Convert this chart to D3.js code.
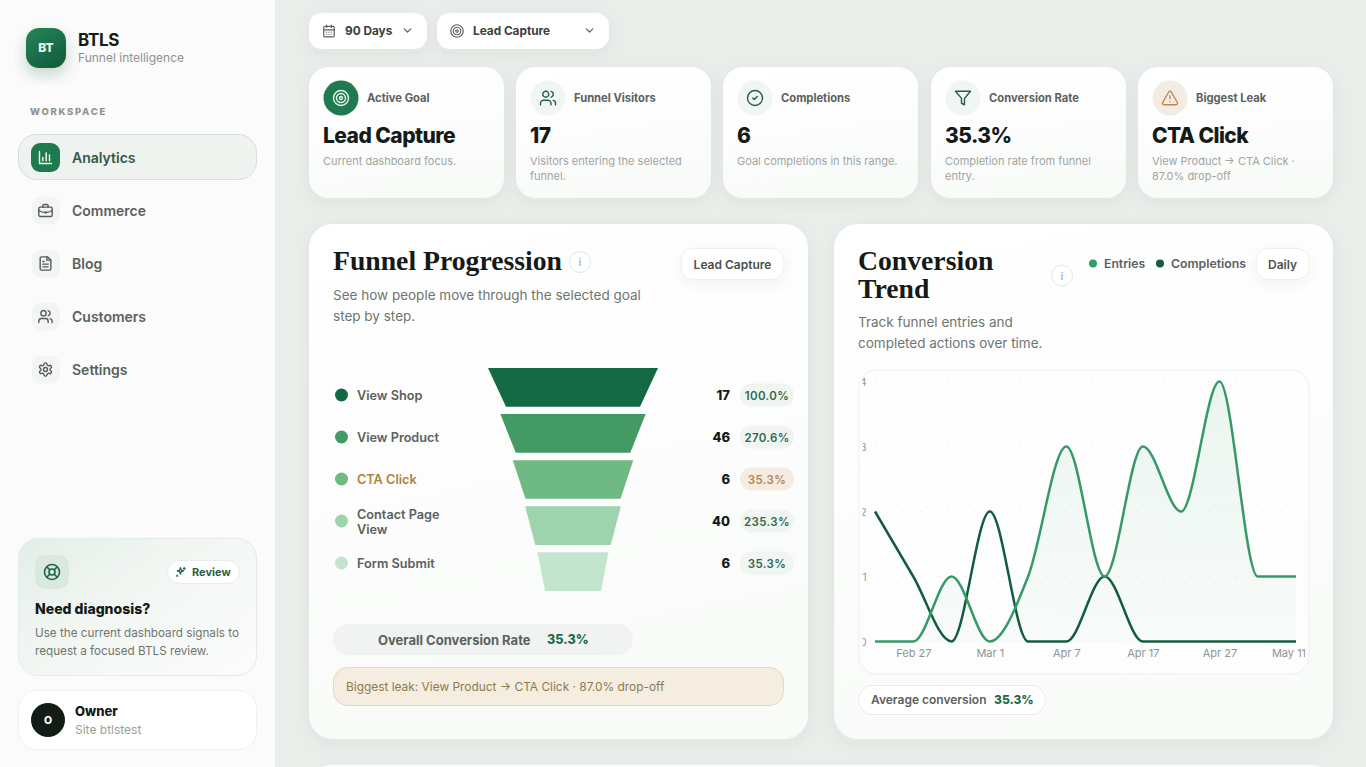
<!DOCTYPE html>
<html>
<head>
<meta charset="utf-8">
<title>BTLS Funnel intelligence</title>
<script src="https://cdn.jsdelivr.net/npm/d3@7"></script>
<style>
    html, body { margin: 0; padding: 0; overflow: hidden; background: #e9eeeb; }
    svg { display: block; }
    text { font-family: Inter, "Noto Sans", sans-serif; }
    .serif { font-family: "Liberation Serif", serif; }
    .y-axis path, .x-axis path { display: none; }
</style>
</head>
<body>
<div id="page"></div>
<script>
// data
const navLabels = ["Analytics", "Commerce", "Blog", "Customers", "Settings"]
const navIcons = ["bars", "briefcase", "file", "users", "gear"]

const kpiLabels = ["Active Goal", "Funnel Visitors", "Completions", "Conversion Rate", "Biggest Leak"]
const kpiValues = ["Lead Capture", "17", "6", "35.3%", "CTA Click"]
const kpiNotes = [
    ["Current dashboard focus."],
    ["Visitors entering the selected", "funnel."],
    ["Goal completions in this range."],
    ["Completion rate from funnel", "entry."],
    ["View Product → CTA Click ·", "87.0% drop-off"]
]
const kpiIcons = ["target", "users", "check", "funnel", "alert"]

const funnelSteps = ["View Shop", "View Product", "CTA Click", "Contact Page View", "Form Submit"]
const funnelCounts = [17, 46, 6, 40, 6]
const funnelShares = ["100.0%", "270.6%", "35.3%", "235.3%", "35.3%"]
const funnelColors = ["#126943", "#439a65", "#6fb985", "#9ed4ad", "#c4e5cd"]
const leakStep = "CTA Click"

const trendTicks = [1, 3, 5, 7, 9, 11]
const trendTickLabels = ["Feb 27", "Mar 1", "Apr 7", "Apr 17", "Apr 27", "May 11"]
const entries = [0, 0, 1, 0, 1, 3, 1, 3, 2, 4, 1, 1]
const completions = [2, 1, 0, 2, 0, 0, 1, 0, 0, 0, 0, 0]

const circle = (x, y, r) => `M${x - r} ${y}a${r} ${r} 0 1 0 ${2 * r} 0a${r} ${r} 0 1 0 ${-2 * r} 0`

// line icons on a 24 unit grid
const icons = {
    calendar: ["M5 4h14a2 2 0 0 1 2 2v14a2 2 0 0 1-2 2H5a2 2 0 0 1-2-2V6a2 2 0 0 1 2-2z", "M16 2v4M8 2v4M3 10h18", "M8 14h.01M12 14h.01M16 14h.01M8 18h.01M12 18h.01M16 18h.01"],
    target: [circle(12, 12, 10), circle(12, 12, 6), circle(12, 12, 2)],
    chevron: ["M6 9l6 6 6-6"],
    users: ["M16 21v-2a4 4 0 0 0-4-4H6a4 4 0 0 0-4 4v2", circle(9, 7, 4), "M22 21v-2a4 4 0 0 0-3-3.87", "M16 3.13a4 4 0 0 1 0 7.75"],
    check: [circle(12, 12, 10), "M9 12l2 2 4-4"],
    funnel: ["M22 3H2l8 9.46V19l4 2v-8.54L22 3z"],
    alert: ["M21.73 18l-8-14a2 2 0 0 0-3.48 0l-8 14A2 2 0 0 0 4 21h16a2 2 0 0 0 1.73-3Z", "M12 9v4", "M12 17h.01"],
    bars: ["M3 3v18h18", "M8 17v-5", "M13 17V5", "M18 17v-9"],
    briefcase: ["M4 7h16a2 2 0 0 1 2 2v10a2 2 0 0 1-2 2H4a2 2 0 0 1-2-2V9a2 2 0 0 1 2-2z", "M16 7V5a2 2 0 0 0-2-2h-4a2 2 0 0 0-2 2v2", "M2 12c3 2 6 3 10 3s7-1 10-3", "M12 14v2"],
    file: ["M15 2H6a2 2 0 0 0-2 2v16a2 2 0 0 0 2 2h12a2 2 0 0 0 2-2V7Z", "M14 2v5h6", "M16 13H8", "M16 17H8", "M10 9H8"],
    gear: ["M12.22 2h-.44a2 2 0 0 0-2 2v.18a2 2 0 0 1-1 1.73l-.43.25a2 2 0 0 1-2 0l-.15-.08a2 2 0 0 0-2.73.73l-.22.38a2 2 0 0 0 .73 2.73l.15.1a2 2 0 0 1 1 1.72v.51a2 2 0 0 1-1 1.74l-.15.09a2 2 0 0 0-.73 2.73l.22.38a2 2 0 0 0 2.73.73l.15-.08a2 2 0 0 1 2 0l.43.25a2 2 0 0 1 1 1.73V20a2 2 0 0 0 2 2h.44a2 2 0 0 0 2-2v-.18a2 2 0 0 1 1-1.73l.43-.25a2 2 0 0 1 2 0l.15.08a2 2 0 0 0 2.73-.73l.22-.39a2 2 0 0 0-.73-2.73l-.15-.08a2 2 0 0 1-1-1.74v-.5a2 2 0 0 1 1-1.74l.15-.09a2 2 0 0 0 .73-2.73l-.22-.38a2 2 0 0 0-2.73-.73l-.15.08a2 2 0 0 1-2 0l-.43-.25a2 2 0 0 1-1-1.73V4a2 2 0 0 0-2-2z", circle(12, 12, 3)],
    buoy: [circle(12, 12, 10), circle(12, 12, 4), "M4.93 4.93l4.24 4.24", "M14.83 9.17l4.24-4.24", "M14.83 14.83l4.24 4.24", "M9.17 14.83l-4.24 4.24"],
    sparkle: ["M11 4l1.5 4.5L17 10l-4.5 1.5L11 16l-1.5-4.5L5 10l4.5-1.5z", "M18 4v3M16.5 5.5h3", "M5 18v2M4 19h2"]
}

const svg = d3.select("#page").append("svg").attr("width", 1366).attr("height", 767)
const defs = svg.append("defs")

function gradient(id, stops, x2, y2) {
    let g = defs.append("linearGradient").attr("id", id)
        .attr("x1", 0).attr("y1", 0).attr("x2", x2).attr("y2", y2)
    stops.forEach(s => g.append("stop").attr("offset", s[0]).attr("stop-color", s[1]).attr("stop-opacity", s[2] === undefined ? 1 : s[2]))
}
gradient("cardFill", [[0, "#ffffff"], [1, "#f9fbf9"]], 0.2, 1)
gradient("logoFill", [[0, "#25855a"], [1, "#14603f"]], 0.6, 1)
gradient("helpFill", [[0, "#e3eee8"], [0.5, "#f3f7f4"], [1, "#fafbfa"]], 1, 0.8)
gradient("areaFill", [[0, "#2f9e66", 0.09], [1, "#2f9e66", 0.02]], 0, 1)

function shadow(id, dy, blur, opacity) {
    let f = defs.append("filter").attr("id", id)
        .attr("x", "-30%").attr("y", "-30%").attr("width", "160%").attr("height", "170%")
    f.append("feDropShadow").attr("dx", 0).attr("dy", dy).attr("stdDeviation", blur)
        .attr("flood-color", "#1d4a35").attr("flood-opacity", opacity)
}
shadow("softShadow", 4, 8, 0.05)
shadow("logoShadow", 7, 7, 0.22)

function box(x, y, w, h, r, fill, stroke, filter) {
    return svg.append("rect").attr("x", x).attr("y", y).attr("width", w).attr("height", h).attr("rx", r)
        .attr("fill", fill)
        .attr("stroke", stroke || "none")
        .attr("filter", filter ? `url(#${filter})` : null)
}

function label(x, y, str, size, weight, color, opts) {
    opts = opts || {}
    return svg.append("text").attr("x", x).attr("y", y)
        .attr("class", opts.cls || null)
        .attr("dominant-baseline", opts.base || "central")
        .attr("text-anchor", opts.anchor || "start")
        .attr("letter-spacing", opts.spacing || null)
        .attr("font-size", size).attr("font-weight", weight).attr("fill", color)
        .text(str)
}

function icon(name, cx, cy, size, color, sw) {
    let k = size / 24
    svg.append("g")
        .attr("transform", `translate(${cx - size / 2},${cy - size / 2}) scale(${k})`)
        .attr("fill", "none").attr("stroke", color).attr("stroke-width", (sw || 1.5) / k)
        .attr("stroke-linecap", "round").attr("stroke-linejoin", "round")
        .selectAll("path").data(icons[name]).join("path").attr("d", d => d)
}

const gray = "#5b615d", dark = "#141a17", muted = "#a0a5a2", soft = "#6f7571", green = "#1c6b4a"

// page and sidebar
box(0, 0, 1366, 767, 0, "#e9eeeb")
box(0, 0, 275, 767, 0, "#fafbfa")

box(26, 28, 40, 40, 13, "url(#logoFill)", null, "logoShadow")
label(46, 47.5, "BT", 12, 800, "#eef6f1", {anchor: "middle"})
label(78, 39.5, "BTLS", 17, 700, dark, {spacing: "-0.3"})
label(78, 57.5, "Funnel intelligence", 12, 400, "#8d928f")
label(30, 111, "WORKSPACE", 9.5, 800, "#8e9590", {spacing: "1.7"})

box(18.5, 134.5, 238, 45, 18, "#eff3f0", "#d3e0d9")
navLabels.forEach((d, i) => {
    let cy = 157.5 + i * 53
    if (i === 0) box(31, cy - 14.5, 29, 29, 9, "#1f7a50")
    else box(32, cy - 14, 28, 28, 9, "#f3f5f3")
    icon(navIcons[i], 45.5, cy, 16, i === 0 ? "#ffffff" : "#565c58", 1.4)
    label(72, cy, d, 14, 600, i === 0 ? "#2f5a48" : gray)
})

box(18.5, 538.5, 238, 137, 20, "url(#helpFill)", "#e6ebe8")
box(35, 555, 34, 34, 10, "#d9e8e0")
icon("buoy", 52, 572, 18, "#22654a", 1.6)
box(167.5, 560.5, 72, 23, 11.5, "#ffffff", "#e9eeeb")
icon("sparkle", 181, 572, 13, "#22654a", 1.3)
label(192, 572, "Review", 11, 700, "#2d5f4a")
label(35, 608.5, "Need diagnosis?", 14, 800, dark)
label(35, 632.5, "Use the current dashboard signals to", 11.7, 400, soft)
label(35, 650.5, "request a focused BTLS review.", 11.7, 400, soft)

box(18.5, 690.5, 238, 59, 18, "#ffffff", "#eef1ef")
svg.append("circle").attr("cx", 48).attr("cy", 720).attr("r", 17).attr("fill", "#141c18")
label(48, 720.5, "O", 10.5, 800, "#ffffff", {anchor: "middle"})
label(75, 711, "Owner", 13, 800, dark)
label(75, 729, "Site btlstest", 12, 400, "#9a9f9c")

// filters
box(309, 13, 118, 36, 13, "#ffffff", null, "softShadow")
icon("calendar", 329, 31, 14, "#5b615d", 1.2)
label(345, 31, "90 Days", 11.8, 700, "#3a403c")
icon("chevron", 407.5, 30.5, 13, "#5b615d", 1.2)
box(437, 13, 172, 36, 13, "#ffffff", null, "softShadow")
icon("target", 457, 31, 15, "#5b615d", 1.2)
label(473, 31, "Lead Capture", 11.8, 700, "#3a403c")
icon("chevron", 589.5, 30.5, 13, "#5b615d", 1.2)

// KPI row
const kpiX = [309, 516, 723, 931, 1138]
kpiLabels.forEach((d, i) => {
    let x = kpiX[i]
    box(x, 67, 195, 131, 20, "url(#cardFill)", null, "softShadow")
    let iconFill = i === 0 ? "#1f7a50" : i === 4 ? "#f3ece2" : "#f1f5f3"
    let iconStroke = i === 0 ? "#e8f3ec" : i === 4 ? "#b98a4e" : "#22604a"
    svg.append("circle").attr("cx", x + 32).attr("cy", 98).attr("r", 17.5).attr("fill", iconFill)
    icon(kpiIcons[i], x + 32, 98, 18, iconStroke, 1.4)
    label(x + 58, 98, d, 11.2, 700, gray)
    label(x + 14, 135.5, kpiValues[i], 21, 800, dark, {spacing: "-0.55"})
    kpiNotes[i].forEach((line, j) => label(x + 14, 161 + j * 15, line, 11, 400, muted))
})

// main cards
box(309, 224, 499, 515, 24, "url(#cardFill)", null, "softShadow")
box(834, 224, 499, 515, 24, "url(#cardFill)", null, "softShadow")
box(309, 765, 1024, 30, 24, "#ffffff")

function infoDot(cx, cy) {
    svg.append("circle").attr("cx", cx).attr("cy", cy).attr("r", 10.5)
        .attr("fill", "#ffffff").attr("stroke", "#e3e6e4")
    label(cx, cy, "i", 10, 400, "#8d928f", {anchor: "middle"})
}

function chip(x, y, w, h, str) {
    box(x, y + 0.5, w, h, 12, "#ffffff", "#eceeed", "softShadow")
    label(x + w / 2, y + h / 2 + 0.5, str, 12, 600, "#4a504c", {anchor: "middle"})
}

// funnel card
label(333, 270, "Funnel Progression", 27.7, 700, dark, {cls: "serif", base: "auto"})
infoDot(580, 262)
chip(681, 248, 103, 31, "Lead Capture")
label(333, 295, "See how people move through the selected goal", 13.5, 400, soft)
label(333, 316, "step by step.", 13.5, 400, soft)

let funnelY = d3.scaleBand().domain(funnelSteps).range([368, 591]).paddingInner(0.16)
let topWidth = d3.scaleLinear().domain([0, funnelSteps.length - 1]).range([170, 71])
let bottomWidth = d3.scaleLinear().domain([0, funnelSteps.length - 1]).range([134, 56])
let rowY = d3.scalePoint().domain(funnelSteps).range([395, 563])
const funnelCx = 573

svg.append("g").attr("class", "funnel")
    .selectAll("path").data(funnelSteps).join("path")
    .attr("fill", (d, i) => funnelColors[i])
    .attr("d", (d, i) => {
        let t = funnelY(d), b = t + funnelY.bandwidth()
        let w0 = topWidth(i) / 2, w1 = bottomWidth(i) / 2
        return `M${funnelCx - w0} ${t}L${funnelCx + w0} ${t}L${funnelCx + w1} ${b}L${funnelCx - w1} ${b}Z`
    })

funnelSteps.forEach((d, i) => {
    let y = rowY(d), leak = d === leakStep
    svg.append("circle").attr("cx", 341.5).attr("cy", y).attr("r", 6.5).attr("fill", funnelColors[i])
    let color = leak ? "#b0823f" : gray
    if (d.length > 14) {
        let words = d.split(" ")
        label(357, y - 6.5, words.slice(0, 2).join(" "), 12.7, 600, color)
        label(357, y + 8.5, words.slice(2).join(" "), 12.7, 600, color)
    } else {
        label(357, y, d, 12.7, 600, color)
    }
    label(730, y, funnelCounts[i], 13, 800, dark, {anchor: "end"})
    box(740, y - 11.5, 54, 23, 11.5, leak ? "#f5ece1" : "#f0f5f2")
    label(767, y + 0.5, funnelShares[i], 11.5, 600, leak ? "#b8864d" : "#2d6a4f", {anchor: "middle", spacing: "0.35"})
})

box(333, 624, 300, 31, 15.5, "#f1f3f2")
label(378, 639.5, "Overall Conversion Rate", 13, 700, gray)
label(547, 639.5, "35.3%", 12.6, 800, green)
box(333.5, 667.5, 450, 38, 14, "#f4ede0", "#e6d9c0")
label(346, 686.5, "Biggest leak: View Product → CTA Click · 87.0% drop-off", 11.9, 400, "#8f7a4f")

// trend card
label(858, 270, "Conversion", 27.7, 700, dark, {cls: "serif", base: "auto"})
label(858, 298, "Trend", 27.7, 700, dark, {cls: "serif", base: "auto"})
infoDot(1062, 275.5)
svg.append("circle").attr("cx", 1093).attr("cy", 263.5).attr("r", 4).attr("fill", "#2f9e66")
label(1104, 263.5, "Entries", 12.2, 600, gray)
svg.append("circle").attr("cx", 1160).attr("cy", 263.5).attr("r", 4).attr("fill", "#145c41")
label(1171, 263.5, "Completions", 12.3, 600, gray)
chip(1256, 248, 53, 31, "Daily")
label(858, 322, "Track funnel entries and", 13.5, 400, soft)
label(858, 343, "completed actions over time.", 13.5, 400, soft)

box(859, 370, 450, 304, 18, "#ffffff", "#edf0ee").attr("fill-opacity", 0.45)

defs.append("clipPath").attr("id", "chartClip").append("rect")
    .attr("x", 862.5).attr("y", 370).attr("width", 442.5).attr("height", 304)

let chart = svg.append("g").attr("class", "trend").attr("clip-path", "url(#chartClip)")

let x = d3.scalePoint().domain(d3.range(entries.length)).range([875, 1296])
let y = d3.scaleLinear().domain([0, 4]).range([641.5, 381.5])

let yAxis = d3.axisLeft(y).tickValues([0, 1, 2, 3, 4]).tickSize(0).tickPadding(0).tickFormat(d3.format("d"))
let xAxis = d3.axisBottom(x).tickValues(trendTicks).tickSize(0).tickPadding(0)
    .tickFormat(d => trendTickLabels[trendTicks.indexOf(d)])

chart.append("g").attr("class", "grid")
    .selectAll("line").data(y.ticks(4)).join("line")
    .attr("x1", 875).attr("x2", 1296)
    .attr("y1", d => y(d)).attr("y2", d => y(d))
    .attr("stroke", "#eef1ef").attr("stroke-dasharray", "2 7")

chart.append("g").attr("class", "y-axis").attr("transform", "translate(866.5,0)").call(yAxis)
chart.append("g").attr("class", "x-axis").attr("transform", "translate(0,649)").call(xAxis)
chart.selectAll(".tick text").attr("font-family", "Inter").attr("fill", "#8f9491")
chart.selectAll(".y-axis .tick text").attr("font-size", 10).attr("y", 1)
chart.selectAll(".x-axis .tick text").attr("font-size", 11)
// the last label is pulled back inside the plot in the original
chart.selectAll(".x-axis .tick:last-of-type text").attr("x", -7.5)

let area = d3.area().curve(d3.curveMonotoneX)
    .x((d, i) => x(i)).y0(y(0)).y1(d => y(d))
let line = d3.line().curve(d3.curveMonotoneX)
    .x((d, i) => x(i)).y(d => y(d))

chart.append("path").datum(entries).attr("d", area).attr("fill", "url(#areaFill)")
chart.append("path").datum(completions).attr("d", line)
    .attr("fill", "none").attr("stroke", "#145c41").attr("stroke-width", 2.5)
chart.append("path").datum(entries).attr("d", line)
    .attr("fill", "none").attr("stroke", "#369a68").attr("stroke-width", 2.5)

box(858.5, 685.5, 187, 29, 14.5, "#ffffff", "#e9ecea")
label(871, 699.5, "Average conversion", 12, 600, gray)
label(994, 699.5, "35.3%", 12, 800, green)
</script>
</body>
</html>
